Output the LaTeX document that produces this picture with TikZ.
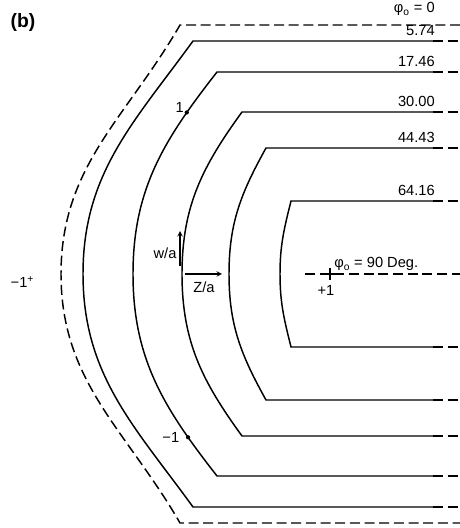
\documentclass[tikz,border=0pt]{standalone}
\usepackage{fontspec}
\setmainfont{Liberation Sans}
\usetikzlibrary{positioning,arrows}
\tikzset{
  contour/.style={line width=1.1pt},
  tail/.style={line width=1.1pt, dash pattern=on 7.5pt off 3.5pt},
  value/.style={anchor=base east, inner sep=0pt},
  ptdot/.style={circle, fill, inner sep=0pt, minimum size=3.2pt},
  unitvec/.style={-stealth, line width=0.8pt}
}
\begin{document}
\begin{tikzpicture}[x=0.75pt, y=0.75pt, font=\fontsize{11}{13}\selectfont]
  \useasboundingbox (0,0) rectangle (460,528);
  % phi_o = 0, all dashed
  \draw[tail] (460,503) -- (180,503) to[out=240,in=90] (61,254)
    to[out=-90,in=120] (180,5) -- (460,5);
  % the solid contours, dashed at the right end
  \foreach \cx/\yt/\ax/\ang in {193/487/83/234, 242/416/182/234, 266/380/229/241, 291/327/280/256}{
    \pgfmathsetmacro\yb{508-\yt}
    \pgfmathsetmacro\angb{360-\ang}
    \draw[contour] (433,\yt) -- (\cx,\yt) to[out=\ang,in=90] (\ax,254)
      to[out=-90,in=\angb] (\cx,\yb) -- (433,\yb);
    \draw[tail] (433,\yt) -- (460,\yt) (433,\yb) -- (460,\yb);
  }
  % 17.46 carries the points +-1
  \draw[contour] (433,456) -- (217,456) to[out=232,in=90] node[pos=0.21, ptdot] (ptone) {} (133,254)
    to[out=-90,in=128] node[pos=0.8, ptdot] (ptmone) {} (217,52) -- (433,52);
  \draw[tail] (433,456) -- (460,456) (433,52) -- (460,52);
  \node[anchor=base east, inner sep=2pt] (lone) at (ptone) {1};
  \node[left=1pt of ptmone] (lmone) {−1};

  \node[value] (v0) at (435,515) {φ\textsubscript{o} = 0};
  \node[value] (v1) at (435,492) {5.74};
  \node[value] (v2) at (435,461) {17.46};
  \node[value] (v3) at (435,421) {30.00};
  \node[value] (v4) at (435,385) {44.43};
  \node[value] (v5) at (435,332) {64.16};

  % phi_o = 90 axis
  \draw[tail] (305,254) -- (460,254);
  \draw[line width=0.9pt] (330,248) -- (330,260) (324,254) -- (336,254);
  \node[anchor=base west, inner sep=0pt] (v6) at (334,260) {φ\textsubscript{o} = 90 Deg.};
  \node (plusone) at (326,238) {+1};
  \node[anchor=west] (minusone) at (6,246) {−1\textsuperscript{+}};

  % unit directions
  \coordinate (wtail) at (180,262);
  \coordinate (whead) at (180,297);
  \coordinate (ztail) at (185,254);
  \coordinate (zhead) at (222,254);
  \draw[unitvec] (wtail) -- (whead);
  \draw[unitvec] (ztail) -- (zhead);
  \node (wlab) at (165,275) {w/a};
  \node (zlab) at (204,241) {Z/a};

  \node[anchor=west, font=\bfseries\fontsize{14.5}{16}\selectfont] (panel) at (6,505) {(b)};
\end{tikzpicture}
\end{document}
